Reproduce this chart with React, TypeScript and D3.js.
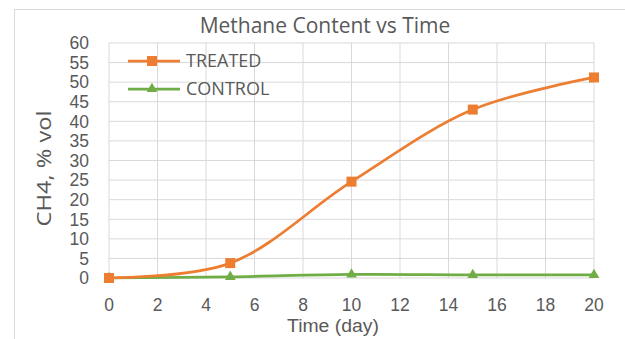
import React from "react";
import * as d3 from "d3";

const days = [0, 5, 10, 15, 20];
const treated = [0, 3.8, 24.6, 43, 51.2];
const control = [0, 0.3, 0.9, 0.8, 0.8];
const xTicks = [0, 2, 4, 6, 8, 10, 12, 14, 16, 18, 20];
const yTicks = [0, 5, 10, 15, 20, 25, 30, 35, 40, 45, 50, 55, 60];
const title = "Methane Content vs Time";
const xLabel = "Time (day)";
const yLabel = "CH4, % vol";
const seriesNames = ["TREATED", "CONTROL"];

const W = 625, H = 339;
const x = d3.scaleLinear().domain([0, 20]).range([109, 594]);
const y = d3.scaleLinear().domain([0, 60]).range([278, 43]);
const font = "'Open Sans', 'Noto Sans', sans-serif";
const tickFont = "'Liberation Sans', Arial, sans-serif";
const txt = "#595959";
const orange = "#ed7d31";
const green = "#70ad47";

export default function App() {
  const line = d3
    .line<number>()
    .x((_, i) => x(days[i]))
    .y((d) => y(d))
    .curve(d3.curveCatmullRom.alpha(0.5));
  const tri = d3.symbol().type(d3.symbolTriangle).size(50)();
  return (
    <svg width={W} height={H} style={{ position: "absolute", left: 0, top: 0 }}>
      <rect x={0} y={0} width={W} height={H} fill="#fff" />
      <rect x={14.5} y={9.5} width={W + 20} height={H + 20} fill="none" stroke="#d9d9d9" />
      <text x={325} y={33} textAnchor="middle" fontFamily={font} fontSize={21} fill={txt}>
        {title}
      </text>
      {yTicks.map((t) => (
        <line key={"h" + t} x1={x(0)} x2={x(20)} y1={y(t)} y2={y(t)} stroke="#d9d9d9" />
      ))}
      {xTicks.map((t) => (
        <line key={"v" + t} x1={x(t)} x2={x(t)} y1={y(0)} y2={y(60)} stroke="#d9d9d9" />
      ))}
      {yTicks.map((t) => (
        <text key={"yt" + t} x={89} y={y(t) + 6.3} textAnchor="end" fontFamily={tickFont} fontSize={17.5} fill={txt}>
          {t}
        </text>
      ))}
      {xTicks.map((t) => (
        <text key={"xt" + t} x={x(t)} y={310.5} textAnchor="middle" fontFamily={tickFont} fontSize={17.5} fill={txt}>
          {t}
        </text>
      ))}
      <text
        x={333}
        y={332}
        textAnchor="middle"
        fontFamily={tickFont}
        fontSize={17.5}
        textLength={92}
        lengthAdjust="spacingAndGlyphs"
        fill={txt}
      >
        {xLabel}
      </text>
      <text
        transform={`translate(51,168.5) rotate(-90)`}
        textAnchor="middle"
        fontFamily={font}
        fontSize={20.5}
        textLength={116}
        lengthAdjust="spacingAndGlyphs"
        fill={txt}
      >
        {yLabel}
      </text>
      <path d={line(control) || ""} fill="none" stroke={green} strokeWidth={2.75} />
      <path d={line(treated) || ""} fill="none" stroke={orange} strokeWidth={2.75} />
      {control.map((v, i) => (
        <path key={"c" + i} d={tri || ""} transform={`translate(${x(days[i])},${y(v)})`} fill={green} />
      ))}
      {treated.map((v, i) => (
        <rect key={"t" + i} x={x(days[i]) - 5} y={y(v) - 5} width={10} height={10} fill={orange} />
      ))}
      <g>
        <line x1={128} x2={180} y1={61} y2={61} stroke={orange} strokeWidth={2.75} />
        <rect x={147} y={56} width={10} height={10} fill={orange} />
        <text x={186} y={66.5} fontFamily={font} fontSize={18} fill={txt}>
          {seriesNames[0]}
        </text>
        <line x1={128} x2={180} y1={89} y2={89} stroke={green} strokeWidth={2.75} />
        <path d={tri || ""} transform={`translate(152,89)`} fill={green} />
        <text x={186} y={95} fontFamily={font} fontSize={18} fill={txt}>
          {seriesNames[1]}
        </text>
      </g>
    </svg>
  );
}
